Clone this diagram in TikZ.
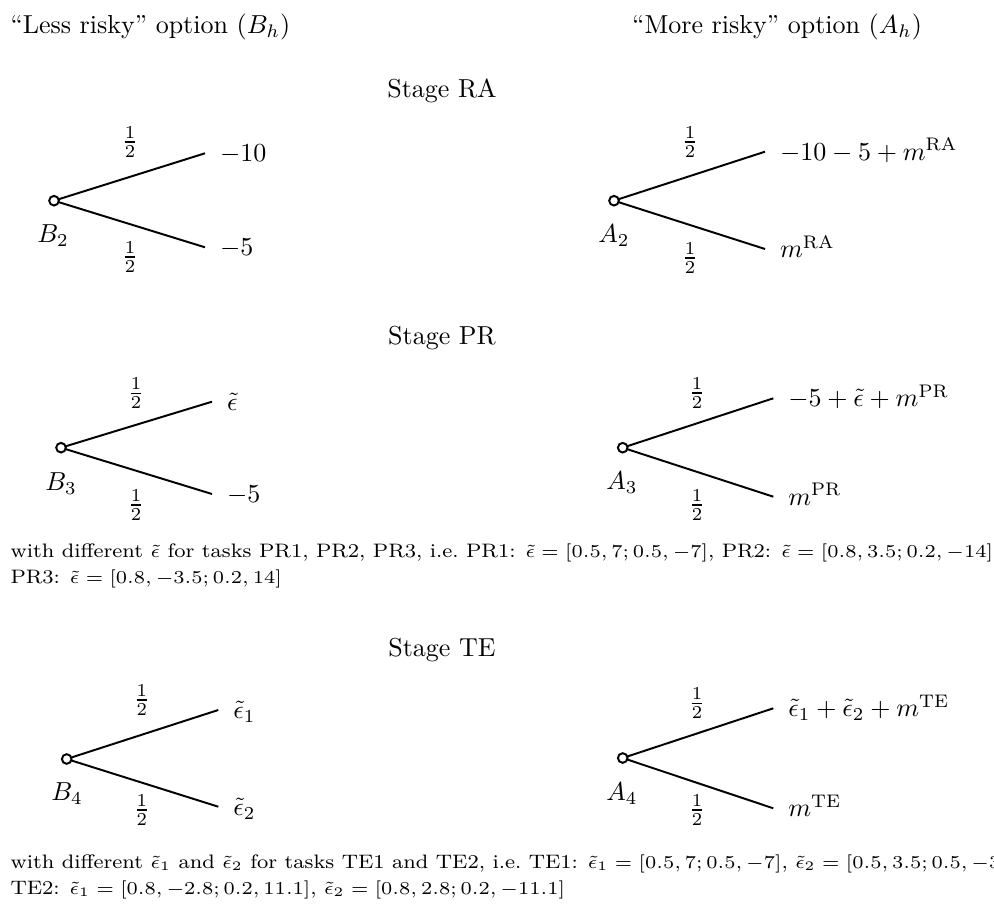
\documentclass[tikz,border=0pt]{standalone}
\usepackage{graphicx}
\usetikzlibrary{calc}
\newcommand\notetext[1]{\scalebox{1.087}[1]{#1}}
\begin{document}
\begin{tikzpicture}[x=0.3846pt,y=-0.3846pt,
  chance/.style={circle, draw, line width=0.75pt, minimum size=3.7pt, inner sep=0pt, fill=white},
  branch/.style={line width=0.75pt},
  endlab/.style={anchor=base west, inner sep=0pt, xshift=5.6pt, yshift=-3.3pt},
  prob/.style={inner sep=0pt},
  nodelab/.style={inner sep=0pt},
  stagetitle/.style={anchor=base, inner sep=0pt},
  header/.style={anchor=base west, inner sep=0pt},
  note/.style={anchor=base west, inner sep=0pt, font=\fontsize{7.5}{9}\selectfont}]
\fill[white] (0,0) rectangle (994,909);
\useasboundingbox (0,0) rectangle (994,909);

% headers
\node[header] (hl) at (10,33.3) {``Less risky'' option ($B_h$)};
\node[header] (hr) at (631.7,33.3) {``More risky'' option ($A_h$)};

% ---------- Stage RA ----------
\node[stagetitle] (sRA) at (442,98) {Stage RA};
\coordinate (B2u) at (205,153.3);
\coordinate (B2d) at (205,247.3);
\draw[branch] (54,200.7) coordinate (B2c) -- (B2u);
\draw[branch] (B2c) -- (B2d);
\node[chance] (B2) at (B2c) {};
\node[endlab] (B2ut) at (B2u) {$-10$};
\node[endlab] (B2dt) at (B2d) {$-5$};
\node[prob] (B2up) at (130,142) {$\frac12$};
\node[prob] (B2dp) at (130,257) {$\frac12$};
\node[nodelab] (B2l) at (53,236) {$B_2$};

\coordinate (A2u) at (765,151.7);
\coordinate (A2d) at (765,249);
\draw[branch] (614,200.7) coordinate (A2c) -- (A2u);
\draw[branch] (A2c) -- (A2d);
\node[chance] (A2) at (A2c) {};
\node[endlab] (A2ut) at (A2u) {$-10-5+m^{\mathrm{RA}}$};
\node[endlab] (A2dt) at (A2d) {$m^{\mathrm{RA}}$};
\node[prob] (A2up) at (690,142) {$\frac12$};
\node[prob] (A2dp) at (690,258) {$\frac12$};
\node[nodelab] (A2l) at (614,236) {$A_2$};

% ---------- Stage PR ----------
\node[stagetitle] (sPR) at (442,345) {Stage PR};
\coordinate (B3u) at (212,401.7);
\coordinate (B3d) at (212,494);
\draw[branch] (61,447.7) coordinate (B3c) -- (B3u);
\draw[branch] (B3c) -- (B3d);
\node[chance] (B3) at (B3c) {};
\node[endlab] (B3ut) at (B3u) {$\tilde\epsilon$};
\node[endlab] (B3dt) at (B3d) {$-5$};
\node[prob] (B3up) at (136,393.3) {$\frac12$};
\node[prob] (B3dp) at (136,505) {$\frac12$};
\node[nodelab] (B3l) at (61,483.5) {$B_3$};

\coordinate (A3u) at (773.3,398.3);
\coordinate (A3d) at (773.3,496.7);
\draw[branch] (622.7,447.7) coordinate (A3c) -- (A3u);
\draw[branch] (A3c) -- (A3d);
\node[chance] (A3) at (A3c) {};
\node[endlab] (A3ut) at (A3u) {$-5+\tilde\epsilon+m^{\mathrm{PR}}$};
\node[endlab] (A3dt) at (A3d) {$m^{\mathrm{PR}}$};
\node[prob] (A3up) at (697,393) {$\frac12$};
\node[prob] (A3dp) at (697,505) {$\frac12$};
\node[nodelab] (A3l) at (622,483) {$A_3$};

\node[note] (nPR1) at (10,557) {\notetext{with different $\tilde\epsilon$ for tasks PR1, PR2, PR3, i.e.\ PR1: $\tilde\epsilon=[0.5,7;0.5,-7]$, PR2: $\tilde\epsilon=[0.8,3.5;0.2,-14]$}};
\node[note] (nPR2) at (10,583) {\notetext{PR3: $\tilde\epsilon=[0.8,-3.5;0.2,14]$}};

% ---------- Stage TE ----------
\node[stagetitle] (sTE) at (442,656) {Stage TE};
\coordinate (B4u) at (218.3,710);
\coordinate (B4d) at (218.3,806.7);
\draw[branch] (66.7,759) coordinate (B4c) -- (B4u);
\draw[branch] (B4c) -- (B4d);
\node[chance] (B4) at (B4c) {};
\node[endlab] (B4ut) at (B4u) {$\tilde\epsilon_1$};
\node[endlab] (B4dt) at (B4d) {$\tilde\epsilon_2$};
\node[prob] (B4up) at (141.7,700) {$\frac12$};
\node[prob] (B4dp) at (141.7,810) {$\frac12$};
\node[nodelab] (B4l) at (67,794) {$B_4$};

\coordinate (A4u) at (773.3,708.3);
\coordinate (A4d) at (773.3,808.3);
\draw[branch] (622.7,758) coordinate (A4c) -- (A4u);
\draw[branch] (A4c) -- (A4d);
\node[chance] (A4) at (A4c) {};
\node[endlab] (A4ut) at (A4u) {$\tilde\epsilon_1+\tilde\epsilon_2+m^{\mathrm{TE}}$};
\node[endlab] (A4dt) at (A4d) {$m^{\mathrm{TE}}$};
\node[prob] (A4up) at (697,703.3) {$\frac12$};
\node[prob] (A4dp) at (697,810) {$\frac12$};
\node[nodelab] (A4l) at (622,794) {$A_4$};

\node[note] (nTE1) at (10,868) {\notetext{with different $\tilde\epsilon_1$ and $\tilde\epsilon_2$ for tasks TE1 and TE2, i.e.\ TE1: $\tilde\epsilon_1=[0.5,7;0.5,-7]$, $\tilde\epsilon_2=[0.5,3.5;0.5,-3.5]$}};
\node[note] (nTE2) at (10,894) {\notetext{TE2: $\tilde\epsilon_1=[0.8,-2.8;0.2,11.1]$, $\tilde\epsilon_2=[0.8,2.8;0.2,-11.1]$}};
\end{tikzpicture}
\end{document}
